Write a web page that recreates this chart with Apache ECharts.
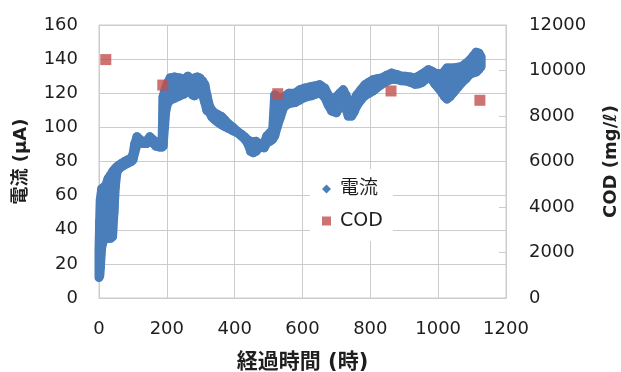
<!DOCTYPE html>
<html>
<head>
<meta charset="utf-8">
<script src="https://cdn.jsdelivr.net/npm/echarts@6/dist/echarts.min.js"></script>
<style>
html,body{margin:0;padding:0;background:#fff;}
#chart{width:621px;height:372px;}
</style>
</head>
<body>
<div id="chart"></div>
<script>
// 電流 (µA): time samples with upper/lower extent of the dense scatter band
const currentTime = [0,2,4,8,14,20,27,34,40,44,48,53,60,67,75,85,95,100,105,112,120,130,140,150,158,168,178,186,189,193,197,202,210,222,238,250,262,270,276,282,290,297,306,312,318,326,333,341,350,361,370,380,395,410,420,430,440,447,455,463,472,479,487,495,505,512,518,525,535,545,560,578,592,607,627,640,651,666,676,686,700,710,720,728,735,745,752,760,772,784,796,809,821,834,848,863,878,893,902,917,932,942,952,962,971,981,991,1001,1011,1019,1026,1035,1045,1058,1070,1082,1094,1104,1112,1120,1126];
const currentHigh = [28,45,58,64,65,66,70,72,74,75,76,77,78,79,80,81,82,84,90,94.5,93,91.5,92,94.5,93,91.5,91.5,92,118,121,123,126,129,129.5,129,128,130,128.5,128,129,129.5,129,127,125,119,112.4,110,108.4,107.5,106.4,104.5,102.4,100,97.4,96,94.4,92.5,91.8,91.5,91.8,90.5,89.5,91,95,97,98,119,118,117,118,120,120,122,123,124,124.5,125,123,119,116.2,118,120,122,119,115.2,112.3,116,119,122,125,126.5,128,128.5,129,130.5,131.8,131,130,130,129.5,129,130,131.2,132.5,133.8,133,131.8,131.5,131,133,134.8,134.8,134.8,135.2,135.7,137.5,139.6,142,144,143.5,141.5];
const currentLow = [12,13,18,30,34,35,35,35,36,50,65,74,76,77,78,79,80,81,85,90,91,90.5,90.5,92,91,89,88.5,88.5,89,100,110,114,116,117,118.5,119.5,121,121,119,118.5,120,121,118.5,114.6,110,108.6,106,104.6,103,101.6,100.5,99.6,98,96.6,95,93.1,90,86,85.2,86,88,89,88,91,92,93,95,100,106,112,114,114.6,116,117.6,118.6,119.5,120.4,117.5,113,109.6,108.6,112,115.6,111,106.6,106.6,109,112.6,116,118.6,120,121.4,123.5,125.3,127,128.2,128,127.3,127.3,126.5,125.3,125.5,126.3,128,130.2,128,125.3,123,120.4,118,116.6,118,120.4,123.5,126.3,128.5,131.2,132,132.5,134,135.5];

// COD (mg/ℓ)
const codTime = [20,188,527,861,1123];
const codValue = [10480,9360,8980,9100,8690];

const xTicks = [0,200,400,600,800,1000,1200];
const leftTicks = [0,20,40,60,80,100,120,140,160];
const rightTicks = [0,2000,4000,6000,8000,10000,12000];

const currentData = currentTime.map((t, i) => [t, currentHigh[i], currentLow[i]]);
const codPts = codTime.map((t, i) => [t, codValue[i]]);

const FONT = "'DejaVu Sans', 'Noto Sans CJK JP', sans-serif";
const GRID = '#cccccc';
const TXT = '#1e1e1e';
const BLUE = '#4a7ebb';

function renderBand(params, api) {
  const i = params.dataIndex;
  const j = Math.min(i + 1, currentTime.length - 1);
  const p1 = api.coord([currentTime[i], currentHigh[i]]);
  const p2 = api.coord([currentTime[j], currentHigh[j]]);
  const p3 = api.coord([currentTime[j], currentLow[j]]);
  const p4 = api.coord([currentTime[i], currentLow[i]]);
  return {
    type: 'polygon',
    shape: {points: [p1, p2, p3, p4]},
    style: {fill: BLUE, stroke: BLUE, lineWidth: 9, lineJoin: 'round'}
  };
}

const chart = echarts.init(document.getElementById('chart'), null, {renderer: 'canvas'});
chart.setOption({
  animation: false,
  backgroundColor: '#ffffff',
  textStyle: {fontFamily: FONT},
  grid: {left: 99, right: 115, top: 25, bottom: 74, containLabel: false, outerBoundsMode: 'none',
         show: true, borderColor: GRID, borderWidth: 1, backgroundColor: 'transparent'},
  legend: {
    orient: 'vertical',
    left: 310, top: 169,
    padding: [10, 10, 10, 12],
    backgroundColor: '#ffffff',
    itemWidth: 9, itemHeight: 9,
    itemGap: 12,
    textStyle: {fontSize: 19, color: TXT, fontFamily: FONT, lineHeight: 20, padding: [0, 0, 0, 4]},
    data: [{name: '電流', icon: 'diamond'}, {name: 'COD', icon: 'rect'}]
  },
  xAxis: {
    type: 'value', min: xTicks[0], max: xTicks[xTicks.length - 1], interval: 200,
    name: '経過時間 (時)', nameLocation: 'middle', nameGap: 54,
    nameTextStyle: {fontSize: 21, fontWeight: 'bold', color: TXT, fontFamily: FONT},
    axisLine: {show: true, lineStyle: {color: GRID}},
    axisTick: {show: false},
    axisLabel: {fontSize: 18, color: TXT, margin: 22, fontFamily: FONT, formatter: v => String(v)},
    splitLine: {show: true, lineStyle: {color: GRID, width: 1}}
  },
  yAxis: [{
    type: 'value', min: leftTicks[0], max: leftTicks[leftTicks.length - 1], interval: 20,
    name: '電流 (μA)', nameLocation: 'middle', nameGap: 69, nameRotate: 90,
    nameTextStyle: {fontSize: 18, fontWeight: 'bold', color: TXT, fontFamily: FONT},
    axisLine: {show: true, lineStyle: {color: GRID}},
    axisTick: {show: false},
    axisLabel: {fontSize: 18, color: TXT, margin: 21, fontFamily: FONT, formatter: v => String(v)},
    splitLine: {show: true, lineStyle: {color: GRID, width: 1}}
  }, {
    type: 'value', position: 'right', min: rightTicks[0], max: rightTicks[rightTicks.length - 1], interval: 2000,
    name: 'COD (mg/ℓ)', nameLocation: 'middle', nameGap: 96, nameRotate: 90,
    nameTextStyle: {fontSize: 18, fontWeight: 'bold', color: TXT, fontFamily: FONT},
    axisLine: {show: true, lineStyle: {color: GRID}},
    axisTick: {show: true, inside: true, length: 7, lineStyle: {color: GRID}},
    axisLabel: {fontSize: 18, color: TXT, margin: 23, fontFamily: FONT, formatter: v => String(v)},
    splitLine: {show: false}
  }],
  series: [{
    name: '電流', type: 'custom', xAxisIndex: 0, yAxisIndex: 0,
    data: currentData,
    encode: {x: 0, y: [1, 2]},
    renderItem: renderBand,
    itemStyle: {color: BLUE},
    clip: false,
    z: 2
  }, {
    name: 'COD', type: 'scatter', xAxisIndex: 0, yAxisIndex: 1,
    data: codPts, symbol: 'rect', symbolSize: 11,
    itemStyle: {color: '#c0504d'},
    z: 3
  }]
});
</script>
</body>
</html>
